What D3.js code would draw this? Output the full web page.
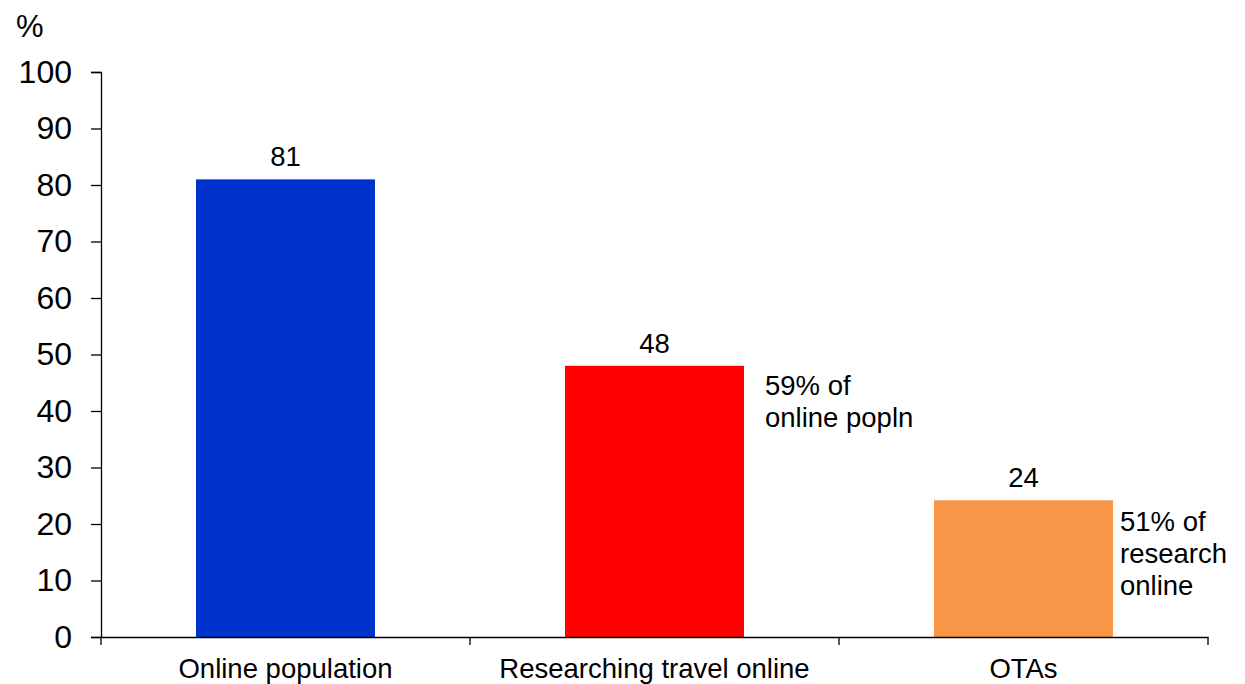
<!DOCTYPE html>
<html><head><meta charset="utf-8">
<script src="https://cdn.jsdelivr.net/npm/d3@7"></script>
<style>body{margin:0;background:#fff;}svg{display:block;font-family:"Liberation Sans",Arial,sans-serif;}</style>
</head><body>
<svg id="c" width="1245" height="684"></svg>
<script>
const categories = ["Online population", "Researching travel online", "OTAs"];
const values = [81, 48, 24.2];
const valueLabels = ["81", "48", "24"];
const colors = ["#0033CC", "#FF0000", "#F79646"];
const notes = [[], ["59% of", "online popln"], ["51% of", "research", "online"]];
const yTicks = [0,10,20,30,40,50,60,70,80,90,100];

(function(){
const svg = d3.select("#c");
const mLeft = 101, mRight = 1208, mTop = 72, mBottom = 637;
const x = d3.scaleBand().domain(categories).range([mLeft, mRight]).paddingInner(0).paddingOuter(0);
const y = d3.scaleLinear().domain([0, 100]).range([mBottom, mTop]);
const barW = 179;
const fs = 27.5;
const noteDx = [0, 21, 7];
const noteDy = [0, 29, 31];

// bars
svg.selectAll("rect.bar").data(categories).join("rect")
  .attr("class", "bar")
  .attr("x", d => x(d) + x.bandwidth()/2 - barW/2)
  .attr("y", (d,i) => y(values[i]))
  .attr("width", barW)
  .attr("height", (d,i) => y(0) - y(values[i]))
  .attr("fill", (d,i) => colors[i]);

// value labels
svg.selectAll("text.val").data(categories).join("text")
  .attr("class", "val")
  .attr("x", d => x(d) + x.bandwidth()/2)
  .attr("y", (d,i) => y(values[i]) - 13)
  .attr("text-anchor", "middle")
  .attr("font-size", fs)
  .attr("fill", "#000")
  .text((d,i) => valueLabels[i]);

// notes
categories.forEach((c,i) => {
  const nx = x(c) + x.bandwidth()/2 + barW/2 + noteDx[i];
  notes[i].forEach((line, j) => {
    svg.append("text")
      .attr("x", nx)
      .attr("y", y(values[i]) + noteDy[i] + j*32)
      .attr("font-size", fs)
      .attr("fill", "#000")
      .text(line);
  });
});

// y axis
const yAxis = svg.append("g").attr("transform", `translate(${mLeft},0)`)
  .call(d3.axisLeft(y).tickValues(yTicks).tickSize(10).tickPadding(19));
yAxis.select(".domain").attr("stroke", "#000").attr("stroke-width", 1.3);
yAxis.selectAll(".tick line").attr("stroke", "#000").attr("stroke-width", 1.3);
yAxis.selectAll(".tick text").attr("font-size", 32).attr("fill", "#000")
  .attr("font-family", '"Liberation Sans",Arial,sans-serif');

// x axis
const xAxis = svg.append("g").attr("transform", `translate(0,${mBottom})`)
  .call(d3.axisBottom(x).tickSize(0).tickPadding(21).tickSizeOuter(0));
xAxis.select(".domain").attr("stroke", "#000").attr("stroke-width", 1.3);
xAxis.selectAll(".tick text").attr("font-size", fs).attr("fill", "#000")
  .attr("font-family", '"Liberation Sans",Arial,sans-serif');
// category separator ticks
const seps = categories.map(c => x(c)).concat([x(categories[categories.length-1]) + x.bandwidth()]);
xAxis.selectAll("line.sep").data(seps).join("line")
  .attr("class", "sep")
  .attr("x1", d => d).attr("x2", d => d).attr("y1", 0).attr("y2", 8)
  .attr("stroke", "#000").attr("stroke-width", 1.3);

// unit label
svg.append("text").attr("x", 16).attr("y", 37).attr("font-size", 31).attr("fill", "#000").text("%");
})();
</script>
</body></html>
